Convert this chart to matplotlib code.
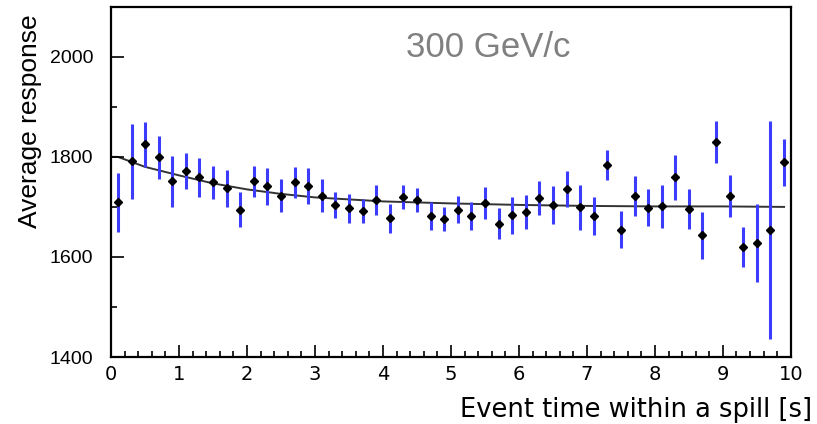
import matplotlib.pyplot as plt
import numpy as np
from matplotlib.ticker import MultipleLocator

# bin centres of the spill time [s]
t = [0.1, 0.3, 0.5, 0.7, 0.9, 1.1, 1.3, 1.5, 1.7, 1.9,
     2.1, 2.3, 2.5, 2.7, 2.9, 3.1, 3.3, 3.5, 3.7, 3.9,
     4.1, 4.3, 4.5, 4.7, 4.9, 5.1, 5.3, 5.5, 5.7, 5.9,
     6.1, 6.3, 6.5, 6.7, 6.9, 7.1, 7.3, 7.5, 7.7, 7.9,
     8.1, 8.3, 8.5, 8.7, 8.9, 9.1, 9.3, 9.5, 9.7, 9.9]

response = [1709, 1791, 1825, 1799, 1751, 1771, 1759, 1749, 1737, 1694,
            1751, 1741, 1722, 1749, 1742, 1722, 1703, 1697, 1692, 1713,
            1677, 1719, 1713, 1681, 1676, 1694, 1681, 1707, 1666, 1683,
            1690, 1717, 1704, 1736, 1699, 1681, 1784, 1654, 1721, 1698,
            1701, 1759, 1696, 1643, 1829, 1722, 1619, 1627, 1653, 1789]

error = [59, 75, 45, 43, 51, 36, 39, 33, 37, 35,
         31, 37, 33, 31, 36, 33, 26, 29, 24, 30,
         29, 24, 24, 28, 24, 27, 28, 32, 31, 37,
         34, 34, 38, 36, 45, 38, 30, 37, 40, 37,
         43, 45, 40, 47, 42, 42, 40, 78, 218, 47]

# exponential fit, values
fit_t = [0.0, 0.1, 0.5, 1.0, 1.5, 2.0, 2.5, 3.0, 3.5, 4.0,
         4.5, 5.0, 6.0, 7.0, 8.0, 9.0, 9.9]
fit_v = [1800, 1800, 1780, 1763, 1747, 1735, 1726, 1719, 1715, 1711,
         1709, 1707, 1704, 1702, 1701, 1701, 1700]

fig = plt.figure(figsize=(8.17, 4.24), dpi=100)
ax = fig.add_axes([0.136, 0.158, 0.832, 0.826])

ax.plot(fit_t, fit_v, color='#333333', linewidth=1.4, zorder=1)
ax.errorbar(t, response, yerr=error, fmt='D', color='black', ms=3.8,
            ecolor='#3c3cff', elinewidth=2.2, capsize=0, zorder=2)

ax.set_xlim(0, 10)
ax.set_ylim(1400, 2100)
ax.xaxis.set_major_locator(MultipleLocator(1))
ax.xaxis.set_minor_locator(MultipleLocator(0.2))
ax.yaxis.set_major_locator(MultipleLocator(200))
ax.yaxis.set_minor_locator(MultipleLocator(100))
ax.set_yticks([1400, 1600, 1800, 2000])

ax.tick_params(which='both', direction='in', top=False, right=False, width=1.2)
ax.tick_params(which='major', length=9)
ax.tick_params(which='minor', length=4.5)
ax.tick_params(axis='y', pad=13, labelsize=14)
ax.tick_params(axis='x', pad=6, labelsize=14)
for lab in ax.get_yticklabels():
    lab.set_family('Liberation Sans')
for s in ax.spines.values():
    s.set_linewidth(1.6)

fig.text(0.037, 0.715, 'Average response', rotation=90, ha='center', va='center',
         fontsize=19, family='Liberation Sans')
fig.text(0.994, 0.033, 'Event time within a spill [s]', ha='right', va='center',
         fontsize=18.5, family='DejaVu Sans')
fig.text(0.598, 0.888, '300 GeV/c', ha='center', va='center',
         fontsize=25, color='#808080', family='Liberation Sans')

fig.savefig('out.png', dpi=100)
